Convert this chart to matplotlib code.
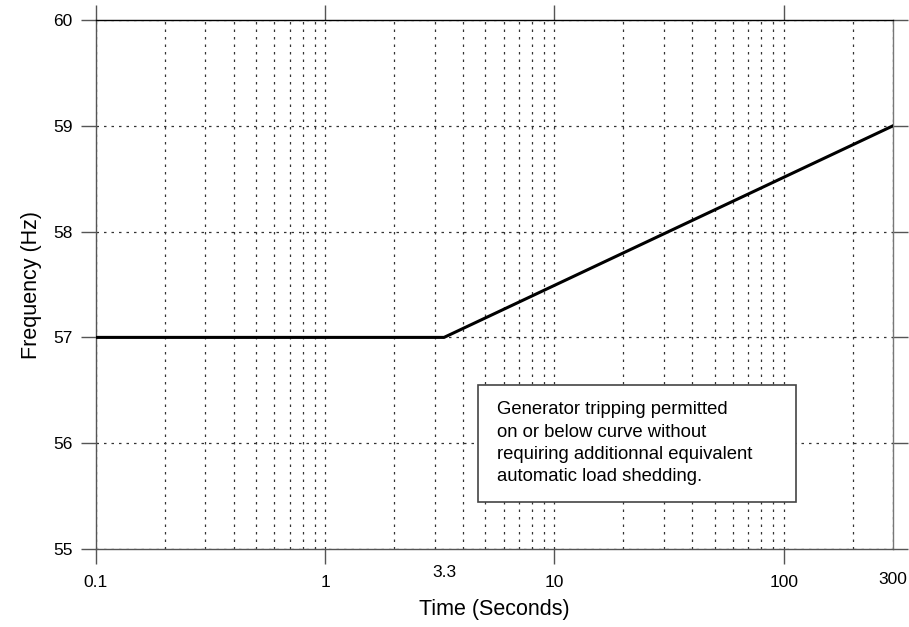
import numpy as np
import matplotlib.pyplot as plt
from matplotlib.patches import Rectangle
from matplotlib.ticker import LogLocator, NullFormatter, FixedLocator, FixedFormatter

plt.rcParams['font.family'] = ['Liberation Sans', 'DejaVu Sans']

# curve: frequency limit vs time
time_s = [0.1, 3.3, 300]
freq_hz = [57, 57, 59]

x_major = [0.1, 1, 10, 100]
x_major_labels = ['0.1', '1', '10', '100']
x_extra = [3.3, 300]
x_extra_labels = ['3.3', '300']
y_ticks = [55, 56, 57, 58, 59, 60]

note = ("Generator tripping permitted\n"
        "on or below curve without\n"
        "requiring additionnal equivalent\n"
        "automatic load shedding.")

fig = plt.figure(figsize=(9.09, 6.27), dpi=100)
ax = fig.add_axes([0.1056, 0.1244, 0.9824 - 0.1056, 0.9681 - 0.1244])

ax.set_xscale('log')
ax.set_xlim(0.1, 300)
ax.set_ylim(55, 60)

# grid
ax.xaxis.set_major_locator(FixedLocator(x_major))
ax.xaxis.set_major_formatter(FixedFormatter(x_major_labels))
ax.xaxis.set_minor_locator(LogLocator(base=10, subs=np.arange(2, 10)))
ax.xaxis.set_minor_formatter(NullFormatter())
ax.set_yticks(y_ticks)
ax.grid(True, which='both', axis='x', color='#333333', linestyle=(0, (2, 4)), linewidth=0.9)
ax.grid(True, which='major', axis='y', color='#333333', linestyle=(0, (2, 4)), linewidth=0.9)

ax.plot(time_s, freq_hz, color='black', linewidth=2.2, zorder=3)

# extra labels (no tick mark), sit a bit higher
for xv, lab, dy in zip(x_extra, x_extra_labels, [-0.030, -0.044]):
    ax.text(xv, dy, lab, transform=ax.get_xaxis_transform(),
            ha='center', va='top', fontsize=12.5)

ax.tick_params(axis='both', which='major', direction='out', length=11,
               width=1, color='#555555', labelsize=12.5, top=True, right=True,
               labeltop=False, labelright=False)
ax.tick_params(axis='x', which='minor', length=0)
ax.tick_params(axis='x', which='major', pad=8)
ax.tick_params(axis='y', which='major', pad=6)

for s in ax.spines.values():
    s.set_color('#555555')
    s.set_linewidth(1)
ax.spines['top'].set_color('black')
ax.spines['right'].set_color('#777777')

ax.set_xlabel('Time (Seconds)', fontsize=15.5, labelpad=6)
ax.set_ylabel('Frequency (Hz)', fontsize=15.5, labelpad=8)

# note box
ax.add_patch(Rectangle((0.479, 0.0888), 0.399, 0.221, transform=ax.transAxes,
                       facecolor='white', edgecolor='#444444', linewidth=1.2,
                       zorder=4))
ax.text(0.503, 0.2, note, transform=ax.transAxes, fontsize=13.3,
        va='center', ha='left', linespacing=1.4, zorder=5)

plt.savefig('out.png', dpi=100)
